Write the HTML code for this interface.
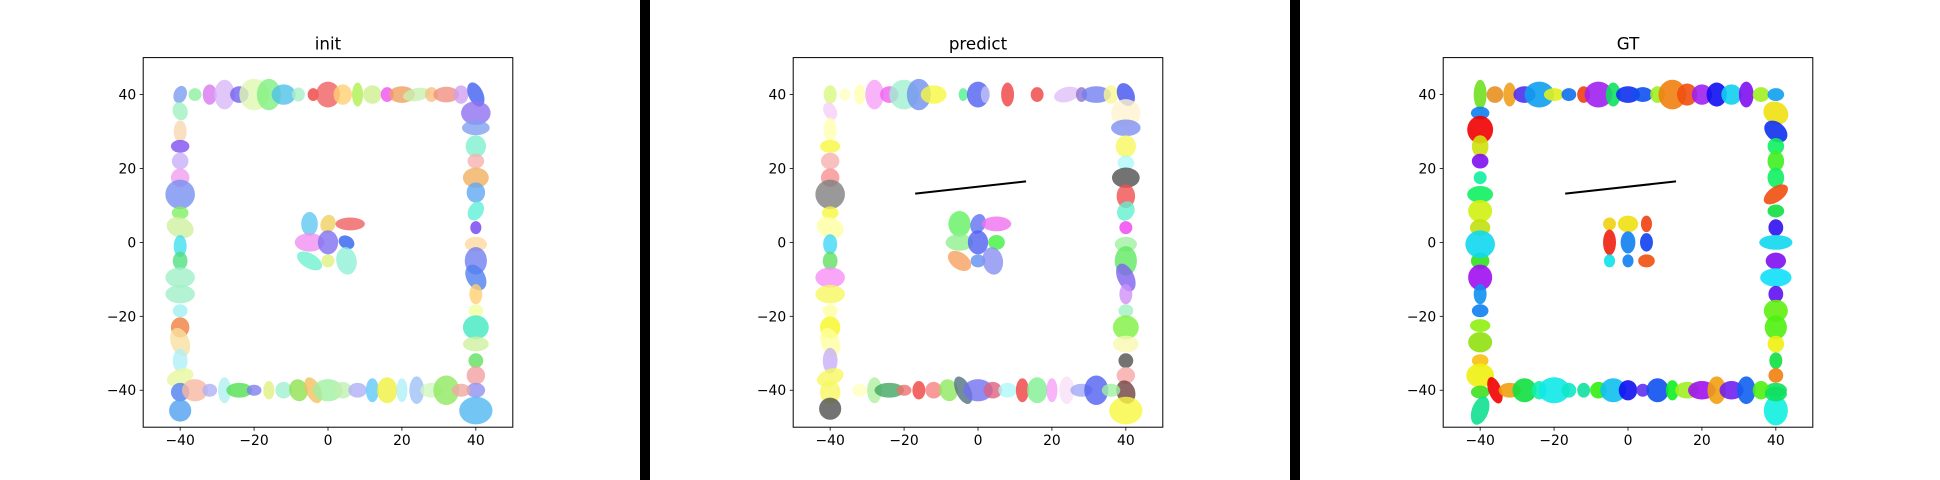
<!DOCTYPE html>
<html><head><meta charset="utf-8"><style>
html,body{margin:0;padding:0;background:#fff;width:1940px;height:480px;overflow:hidden}
svg{display:block}
text{font-family:"DejaVu Sans","Liberation Sans",sans-serif;fill:#000}
</style></head><body>
<svg id="fig" width="1940" height="480" viewBox="0 0 1940 480" xmlns="http://www.w3.org/2000/svg">
<rect x="0" y="0" width="1940" height="480" fill="#fff"/>
<rect x="640" y="0" width="10" height="480" fill="#000"/>
<rect x="1290" y="0" width="10" height="480" fill="#000"/>
</svg>
<script>
const xTicks=[-40,-20,0,20,40];
const yTicks=[-40,-20,0,20,40];
const panelTitles=["init","predict","GT"];
// [x, y, width, height, angle, color]
const initEllipses=[
[-40,40,3.5,4.8,-20,'#7b9cf0'],[-36,40,3.5,3.5,0,'#8ef0a0'],[-32,40,3.8,5.5,0,'#d878f0'],[-28,40,5.5,8,0,'#d8b8f8'],[-24,40,5,4.5,0,'#7060f0'],[-20,40,8,8.5,0,'#e0f8b0'],[-16,40,6.5,8.5,0,'#80f080'],[-12,40,6.5,5.5,0,'#50c0e8'],[-8,40,3.5,3.8,0,'#a8f0c8'],[-4,40,3,3.5,0,'#f04040'],[0,40,6.5,7,0,'#f06060'],[4,40,5,5.5,0,'#ffd070'],[8,40,3,6.5,0,'#b0f050'],[12,40,5,5,0,'#d0f090'],[16,40,3.5,4,0,'#f050f0'],[20,40,7,4.5,0,'#f0a060'],[24,40,7.5,3.5,10,'#c8f0b0'],[28,40,3.5,4,0,'#f8c080'],[32,40,7,4.2,0,'#f09080'],[36,40,4,5,0,'#d0a0f0'],[40,40,4,7,25,'#4060f0'],
[40,35,8,6.5,0,'#9070f0'],[40,31,7.5,4,0,'#80a0f0'],[40,26,5.5,6,0,'#80f0d0'],[40,22,4.5,4,0,'#f8b0b0'],[40,17.5,7,5.5,0,'#f0b060'],[40,13.5,5,5.5,0,'#60a8f0'],[40,8.5,4,5.5,-30,'#60f0d8'],[40,4,3,3.5,0,'#7040f0'],[40,-0.5,6,4,0,'#ffd8a0'],[40,-5,6,7.5,0,'#7080f0'],[40,-9.5,5,7.5,30,'#5080f0'],[40,-14,3.5,5.5,0,'#ffd070'],[40,-18.5,4,3.5,0,'#f0ffa0'],[40,-23,7,6.5,0,'#40e8c0'],[40,-27.5,7,4,0,'#d0f0a0'],[40,-32,4,4,0,'#60e060'],[40,-36,5,5,20,'#f4a0a0'],[40,-40,5,4,0,'#9090f0'],[40,-45.5,9,7.5,0,'#50b8f0'],
[-40,35.5,4,5,20,'#a0f0c0'],[-40,30,3.5,6,0,'#f8d8b0'],[-40,26,5,3.5,0,'#8050f0'],[-40,22,4.5,4.5,0,'#c8b0f8'],[-40,17.5,5,5,0,'#f0a0f0'],[-40,13,8,8,0,'#7890f0'],[-40,8,4.5,3.5,0,'#80f060'],[-40,4,7.5,5.5,-20,'#d0f0a0'],[-40,-1,3.5,6,0,'#40e0f0'],[-40,-5,4,5,0,'#50e080'],[-40,-9.5,8,5.5,0,'#a0f0c8'],[-40,-14,8,5,0,'#a0f0c8'],[-40,-18.5,4,3.5,0,'#a0f0f0'],[-40,-23,5,5.5,0,'#f08040'],[-40,-27,5,8,20,'#f8e0a0'],[-40,-32,4,6.5,0,'#b0f0f8'],[-40,-36.5,7.5,4.5,20,'#e8f8a0'],[-40,-40.5,5,5,0,'#5080f0'],[-40,-45.5,6,6,0,'#50a0f0'],
[-36,-40,7,6,0,'#f8b8a0'],[-32,-40,4,3.5,0,'#b0b0f8'],[-28,-40,3.5,7,0,'#b0f0f0'],[-24,-40,7,4,0,'#50e050'],[-20,-40,4,3,0,'#8080f0'],[-16,-40,3,5,0,'#e0f080'],[-12,-40,4.5,4.5,0,'#a0f0d0'],[-8,-40,5,6,15,'#90e050'],[-4,-40,4,7.5,25,'#f0c060'],[0,-40,8,6,0,'#a0f0a0'],[4,-40,5,4.5,0,'#c0f0b0'],[8,-40,5,4,0,'#b0b0f8'],[12,-40,3.5,6.5,0,'#60c8f8'],[16,-40,5.5,7,0,'#f0f040'],[20,-40,3,6.5,0,'#b0f0f8'],[24,-40,4,7.5,0,'#a0c0f8'],[28,-40,6,4,0,'#d0f8c0'],[32,-40,7,8,0,'#90e860'],[36,-40,5,3.5,0,'#f0a8a0'],
[-5,5,4.5,6.5,0,'#60c8f0'],[0,5,4,5,-20,'#f0d060'],[6,5,8,3.5,0,'#f06060'],[-5,0,8,5,0,'#f090f0'],[0,0,5.5,6.5,0,'#8070f0'],[5,0,4.5,3.5,-30,'#3060f0'],[-5,-5,7.5,4,-30,'#70f0d0'],[0,-5,3.5,3.5,0,'#e0f080'],[5,-5,5.5,7.5,10,'#90f0d8']
];
const predictEllipses=[
[-40,40,3.5,5,0,'#d8f880'],[-36,40,3,3.5,0,'#ffffc0'],[-32,40,3,5.5,0,'#ffffb0'],[-28,40,5,8,0,'#f8a0f8'],[-24,40,5,4.5,0,'#f060f0'],[-20,40,8,8,0,'#a0f0d0'],[-16,40,6.5,8.5,0,'#7090f0'],[-12,40,7,5,0,'#f8f840'],[-4,40,2.5,3.5,0,'#50f090'],[0,40,6,7,0,'#5060f0'],[2,40,2.5,4.5,0,'#c0c0f8'],[8,40,3.5,6.5,0,'#f04040'],[16,40,3.5,4,0,'#f04040'],[24,40,7,4,15,'#e0c0f8'],[28,40,3,4,0,'#9070d0'],[32,40,8,4.5,0,'#7080f0'],[36,40,4,5,0,'#f8f890'],[40,40,4.5,6.5,25,'#4050f0'],
[40,35,8,7.5,0,'#fff4d0'],[40,31,8,4.5,0,'#8090f0'],[40,26,5.5,6,0,'#f8f860'],[40,21.5,4.5,4,0,'#b0f8f8'],[40,17.5,7.5,5.5,0,'#505050'],[40,12.5,5,6.5,0,'#f05050'],[40,8.5,4.5,5.5,-30,'#60f0d0'],[40,4,3.5,3.5,0,'#f040f0'],[40,-0.5,6,4,0,'#a0f0a0'],[40,-5,6,8,0,'#60e860'],[40,-9.5,4.5,8,25,'#8060f0'],[40,-14,3.5,5.5,0,'#d090f8'],[40,-18.5,4,3.5,0,'#a0f0c0'],[40,-23,7,6.5,0,'#80f040'],[40,-27.5,7,4.5,0,'#f8f8b0'],[40,-32,4,4,0,'#505050'],[40,-36,5,4.5,0,'#f8a8a8'],[40,-40.5,5,6.5,20,'#704040'],[40,-45.5,9,7.5,0,'#f8f840'],
[-40,35.5,3.5,5,25,'#f8d0f8'],[-40,30.5,3.5,6.5,0,'#ffffb0'],[-40,26,5.5,3.5,0,'#f8f840'],[-40,22,5,4.5,0,'#f8b0b0'],[-40,17.5,5,5,0,'#f89090'],[-40,13,8,8,0,'#808080'],[-40,8,4.5,3.5,0,'#f8f840'],[-40,4,7.5,5.5,-20,'#ffffa0'],[-40,-0.5,3.8,5.5,0,'#40d8f8'],[-40,-5,4,5,0,'#60e060'],[-40,-9.5,8,5.5,0,'#f890f8'],[-40,-14,8,5,0,'#f8f860'],[-40,-18.5,4,3.5,0,'#ffffa0'],[-40,-23,5.5,6,0,'#f8f820'],[-40,-27,5,8,20,'#ffffa0'],[-40,-32,4,7,0,'#c8b0f8'],[-40,-36.5,7.5,4.5,20,'#f8f860'],[-40,-40.5,5.5,6.5,0,'#f8f860'],[-40,-45,6,6,0,'#505050'],
[-32,-40,4,3.5,0,'#ffffc0'],[-28,-40,4,7,0,'#b0f0a0'],[-24,-40,8,4,0,'#40a860'],[-20,-40,4,3,0,'#f07070'],[-16,-40,3.5,5,0,'#f04040'],[-12,-40,4.5,4.5,0,'#f88080'],[-8,-40,5,6,15,'#90e860'],[-4,-40,4,8,25,'#507080'],[0,-40,8,6,0,'#7070f0'],[4,-40,5,4.5,0,'#e06080'],[8,-40,5,4,0,'#b0f8f8'],[12,-40,3.5,6.5,0,'#f04040'],[16,-40,5.5,7,0,'#80f090'],[20,-40,3,6.5,0,'#f8a0f8'],[24,-40,4,7.5,0,'#f8e0f8'],[28,-40,6,3.5,0,'#a0a8f8'],[32,-40,6.5,8,0,'#5060f0'],[36,-40,5,3.5,0,'#a0f0a0'],
[-5,5,6,7,0,'#60f060'],[0,5,4,5.5,-20,'#6070f0'],[5,5,8,4,0,'#f070f0'],[-5,0,7.5,4.5,0,'#90f090'],[0,0,5.5,6.5,0,'#5060f0'],[5,0,4.5,4,0,'#40f040'],[-5,-5,7,4.5,-35,'#f8a060'],[0,-5,4,3.5,0,'#6090f0'],[4,-5,5.5,7.5,10,'#8890f0']
];
const gtEllipses=[
[-40,40,3.5,8,0,'#70e020'],[-36,40,4.5,4.5,0,'#e89020'],[-32,40,3.5,6.5,0,'#f0a020'],[-28,40,6,4.5,0,'#5030f0'],[-24,40,8,7,0,'#10a0f0'],[-20,40,5.5,3.5,0,'#e0f020'],[-16,40,4,3.5,0,'#1070f0'],[-12,40,3.5,4.5,0,'#f04010'],[-8,40,7.5,7,0,'#a020f0'],[-4,40,4,6.5,0,'#10e060'],[0,40,6.5,4.5,0,'#1030f0'],[4,40,5.5,4,0,'#1050f0'],[8,40,4,4.5,0,'#a0f020'],[12,40,7.5,8,0,'#f08010'],[16,40,5.5,6,0,'#f05010'],[20,40,5.5,5.5,0,'#a020f0'],[24,40,5.5,6.5,0,'#1010f0'],[28,40,5.5,5.5,0,'#10d0f0'],[32,40,4,7,0,'#8010f0'],[36,40,4.5,4,0,'#a0f020'],[40,40,4.5,3.5,0,'#10a0f0'],
[40,35,7,6,-30,'#f0e010'],[40,30,7,5,-40,'#1030f0'],[40,26,4.5,4.5,0,'#10f060'],[40,22,4.5,5.5,0,'#40f020'],[40,17.5,4.5,5.5,0,'#10f060'],[40,13,7.5,4,35,'#f05010'],[40,8.5,4.5,3.5,0,'#10e040'],[40,4,4,4.5,0,'#3010f0'],[40,0,9,4,0,'#10d8f0'],[40,-5,5.5,4.5,0,'#8010f0'],[40,-9.5,8.5,5,0,'#10e0f8'],[40,-14,4,4.5,0,'#6010f0'],[40,-18.5,6.5,6,0,'#60f010'],[40,-23,6,6.5,0,'#50f010'],[40,-27.5,4.5,4.5,0,'#f0f010'],[40,-32,3.5,4.5,0,'#10e040'],[40,-36,4,4,0,'#f08010'],[40,-40,6,4,0,'#10e060'],[40,-45.5,6.5,8,0,'#10f0e0'],
[-40,35,5,3.5,0,'#1080f0'],[-40,30.5,7,7.5,0,'#f00000'],[-40,26,4.5,6,0,'#d0e010'],[-40,22,4.5,4,0,'#8010f0'],[-40,17.5,3.5,3.5,0,'#10f0a0'],[-40,13,7,4.5,0,'#10f060'],[-40,8.5,6.5,6,0,'#d0f010'],[-40,4,5.5,4.5,0,'#c0e010'],[-40,-5,5,4.5,0,'#30e020'],[-40,-0.5,8,7.5,0,'#10d8f0'],[-40,-9.5,6.5,7,0,'#a010f0'],[-40,-14,3.5,5.5,0,'#1090f0'],[-40,-18.5,4.5,3.5,0,'#1080f0'],[-40,-22.5,5.5,3.5,0,'#90f010'],[-40,-27,6.5,5.5,0,'#90e010'],[-40,-32,4.5,3.5,0,'#f8c010'],[-40,-36,7.5,6.5,0,'#f0f010'],[-40,-40.5,5,3.5,0,'#40e020'],[-40,-45.5,4.5,8,-20,'#10e090'],
[-36,-40,3.5,7.5,20,'#f00000'],[-32,-40,6,4,0,'#f0a010'],[-28,-40,6.5,6.5,0,'#10e040'],[-24,-40,4,5,0,'#10f0b0'],[-20,-40,8.5,7,0,'#10e8e8'],[-16,-40,4,4,0,'#10e8c8'],[-12,-40,3.5,4,0,'#10e0a0'],[-8,-40,4.5,4.5,0,'#30f010'],[-4,-40,7,6.5,0,'#10c0f0'],[0,-40,5,5.5,0,'#1010f0'],[4,-40,3.5,3.5,0,'#6030f0'],[8,-40,6,6.5,0,'#1050f0'],[12,-40,3.5,5.5,0,'#10f020'],[16,-40,6.5,4.5,0,'#a0f020'],[20,-40,7.5,5,0,'#a010f0'],[24,-40,5,7.5,0,'#f0a010'],[28,-40,6.5,5,0,'#7020f0'],[32,-40,5,7.5,0,'#1060f0'],[36,-40,4.5,5,0,'#50f010'],[40,-41,6,4,0,'#10e060'],
[-5,5,3.5,3.5,0,'#f0d010'],[0,5,5.5,4.5,0,'#f0e010'],[5,5,3,4.5,0,'#f04010'],[-5,0,3.5,7,0,'#f02010'],[0,0,4,6,0,'#1080f0'],[5,0,3.5,5,0,'#1040f0'],[-5,-5,3,3.5,0,'#10e0e8'],[0,-5,3,3.5,0,'#1080f0'],[5,-5,4.5,3.5,0,'#f05010']
];
// trajectory line [x1,y1,x2,y2]
const predictLine=[-17,13.2,13,16.5];
const gtLine=[-17,13.2,13,16.5];

const NS='http://www.w3.org/2000/svg';
const svg=document.getElementById('fig');
const AX_W=369.6, AX_T=57.6, AX_L=143.2;
function mk(tag,attrs,parent){const e=document.createElementNS(NS,tag);for(const k in attrs)e.setAttribute(k,attrs[k]);parent.appendChild(e);return e;}
function drawPanel(idx,offX,ellipses,line,alpha){
  const sx=v=>offX+AX_L+(v+50)/100*AX_W;
  const sy=v=>AX_T+(50-v)/100*AX_W;
  const k=AX_W/100;
  const g=mk('g',{},svg);
  
  
  const cp=mk('clipPath',{id:'clip'+idx},g);
  mk('rect',{x:sx(-50),y:sy(50),width:AX_W,height:AX_W},cp);
  const eg=mk('g',{'clip-path':'url(#clip'+idx+')'},g);
  
  
  ellipses.forEach(d=>{
    const cx=sx(d[0]),cy=sy(d[1]);
    const el=mk('ellipse',{cx:cx,cy:cy,rx:d[2]/2*k,ry:d[3]/2*k,fill:d[5],'fill-opacity':alpha,transform:'rotate('+(-d[4])+' '+cx+' '+cy+')'},eg);
    
    
  });
  if(line){
    const ln=mk('line',{x1:sx(line[0]),y1:sy(line[1]),x2:sx(line[2]),y2:sy(line[3]),stroke:'#000','stroke-width':2},eg);
    
    
  }
  const fr=mk('rect',{x:sx(-50),y:sy(50),width:AX_W,height:AX_W,fill:'none',stroke:'#000','stroke-width':1},g);
  
  
  xTicks.forEach(t=>{
    const x=sx(t);
    mk('line',{x1:x,y1:sy(-50),x2:x,y2:sy(-50)+3.5,stroke:'#000','stroke-width':0.8},g);
    const tx=mk('text',{x:x,y:sy(-50)+18,'text-anchor':'middle','font-size':13.9},g);
    tx.textContent=(t<0?'\u2212'+(-t):''+t);
    
    
  });
  yTicks.forEach(t=>{
    const y=sy(t);
    mk('line',{x1:sx(-50)-3.5,y1:y,x2:sx(-50),y2:y,stroke:'#000','stroke-width':0.8},g);
    const tx=mk('text',{x:sx(-50)-7,y:y+5,'text-anchor':'end','font-size':13.9},g);
    tx.textContent=(t<0?'\u2212'+(-t):''+t);
    
    
  });
  const ti=mk('text',{x:offX+AX_L+AX_W/2,y:AX_T-8,'text-anchor':'middle','font-size':16.7},g);
  ti.textContent=panelTitles[idx];
  
  
}
drawPanel(0,0,initEllipses,null,0.8);
drawPanel(1,650,predictEllipses,predictLine,0.8);
drawPanel(2,1300,gtEllipses,gtLine,0.9);
</script>
</body></html>
